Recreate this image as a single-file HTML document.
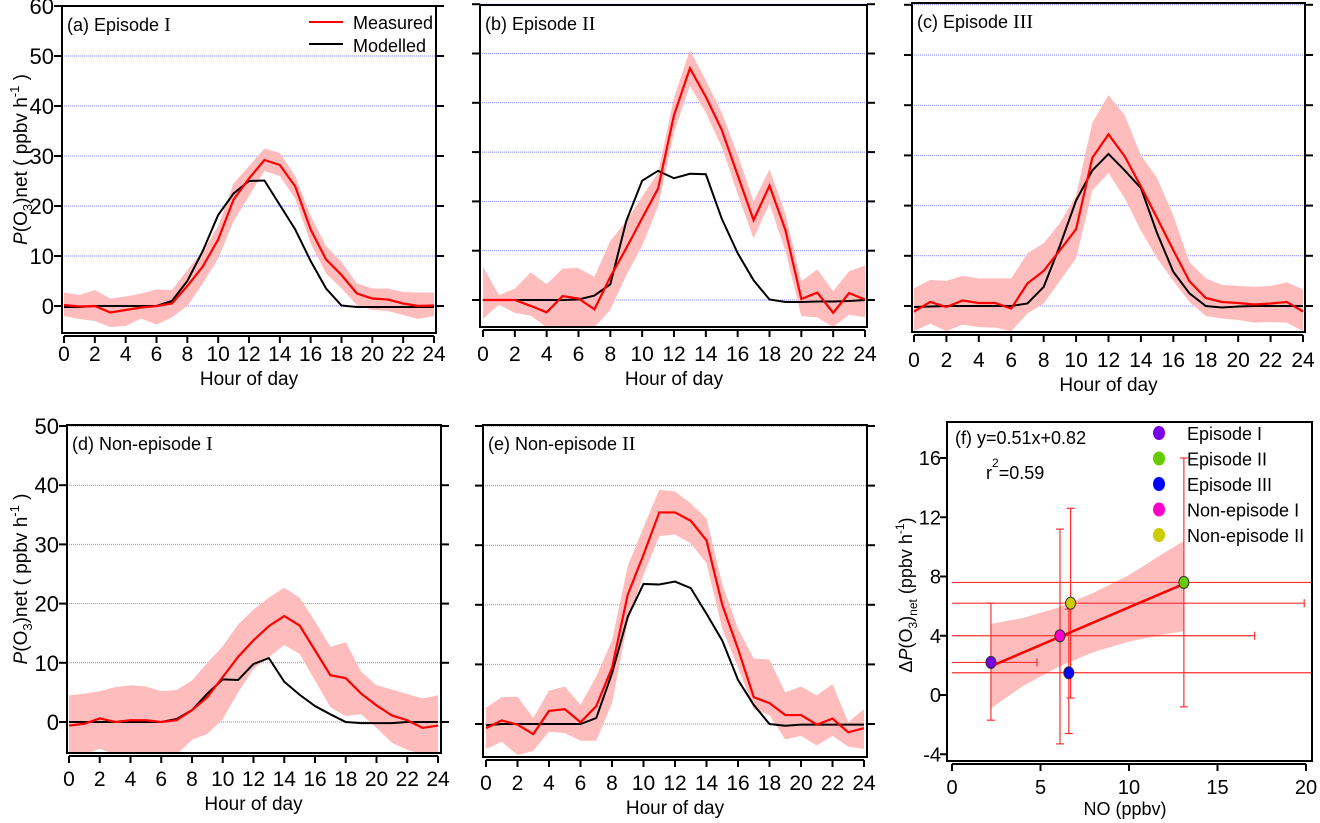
<!DOCTYPE html>
<html><head><meta charset="utf-8"><style>
html,body{margin:0;padding:0;background:#fff;}
svg{display:block;font-family:"Liberation Sans","Noto Sans CJK SC",sans-serif;}
</style></head><body>
<svg id="fig" width="1320" height="823" viewBox="0 0 1320 823" xmlns="http://www.w3.org/2000/svg"></svg>
<script>
var hours=[0,1,2,3,4,5,6,7,8,9,10,11,12,13,14,15,16,17,18,19,20,21,22,23,24];
var xTickLabels=[0,2,4,6,8,10,12,14,16,18,20,22,24];
var aMeas=[0.2,-0.1,0,-1.3,-0.8,-0.3,0,0.5,4,7.9,13.3,21.3,25.5,29.2,28.2,23.9,15.3,9.3,6.2,2.5,1.5,1.3,0.5,0,0.1];
var aUp=[2.7,2.2,3.2,1.5,1.9,2.5,3.3,3.2,7.2,10.9,16,24.5,28,31.5,30.6,26,18,12,8.8,4.5,3.5,3.5,2.8,2.7,2.7];
var aLo=[-2,-2.6,-3,-4.2,-4,-2.5,-3.7,-2.3,0,4.5,9.5,17,22,27,26,21.5,12.5,6.5,3.5,0.2,-0.8,-1,-1.8,-2.6,-2];
var aMod=[-0.2,-0.2,0,0,0,0,0,1,5,11,18.2,22.5,25,25.1,20.2,15.3,9,3.5,0.1,-0.2,-0.2,-0.2,-0.2,-0.2,-0.2];
var bMeas=[0,0,0,-1.2,-2.5,0.8,0.3,-1.9,4.7,10.5,16.6,22.6,37.5,47,41.2,34.5,25.3,16.2,23.2,14.2,0.2,1.5,-2.6,1.4,0.1];
var bUp=[6.8,1,2.3,5.6,3.2,6.4,6.5,4.7,12,16,21,25.8,41,50.7,44.5,38,29.5,20,26.5,17.5,3.8,6.2,1.8,5.8,7];
var bLo=[-3.8,-1,-2.6,-3.2,-5.5,-5.5,-5.5,-5.5,-2,5,11,19,34,43.5,38,31,21.5,12.5,19.5,10,-3.3,-3.5,-5.5,-3,-3.5];
var bMod=[0,0,0,0,0,0,0.1,0.9,3.2,16,24.2,26.2,24.7,25.6,25.5,16.5,9.5,4,0.1,-0.4,-0.4,-0.3,-0.3,-0.2,0];
var cMeas=[-1.1,0.8,-0.2,1.1,0.6,0.6,-0.5,4.5,7,11.1,15.3,29.5,34.2,29.8,23.8,17.5,11.1,4.9,1.6,0.8,0.6,0.3,0.5,0.8,-1.1];
var cUp=[3.5,5.2,5,6,5.5,5.5,5.5,10.5,12.5,16.5,22,36.5,42,38,30,25.5,18,8.7,5.5,4.2,4,3.8,4,4.7,3.3];
var cLo=[-5,-3.5,-5,-3.7,-4.2,-4.3,-5,-1.5,0.5,5,9.5,23,26.5,21.5,15,9.5,5,0.8,-2,-2.5,-2.8,-3.3,-3.2,-3.3,-5];
var cMod=[-0.2,-0.1,0,0,0,0,0,0.5,3.8,12,21,27,30.3,27,23.5,14.5,6.8,2.5,0,-0.3,-0.1,0,0,0,0];
var dMeas=[-0.6,-0.3,0.6,0,0.3,0.3,0,0.3,2,4.2,7.6,11,13.8,16.2,17.9,16.3,12.1,7.9,7.4,4.8,2.8,1.1,0.3,-1,-0.6];
var dUp=[4.5,4.8,5.2,5.9,6.2,6,5.2,5.4,7,10,12.8,16.5,19,21,22.7,21,17,12.7,13.5,8.5,6.2,5.5,4.7,4,4.5];
var dLo=[-5.5,-5.5,-4.5,-5.5,-5.5,-5.5,-5.5,-5.5,-3,-2,0.5,5,9,11,13,11.5,7,2.5,1,1.3,-1,-3.5,-4.7,-5.5,-5.5];
var dMod=[0,0,0,0,0,0,0,0.5,2,4.8,7.2,7.1,9.8,10.8,6.8,4.6,2.7,1.3,0,-0.2,-0.2,-0.2,0,0,0];
var eMeas=[-0.7,0.6,-0.1,-1.7,2.2,2.5,0.3,3,9.4,21.7,28.4,35.5,35.5,34.1,30.8,20,12.6,4.5,3.5,1.5,1.5,-0.1,0.9,-1.4,-0.7];
var eUp=[2.7,4.5,4.6,1,5.6,6.3,3.2,8,14,26.5,33,39.3,39,37,34.5,23.5,16,11,10.8,5.3,6.3,4.8,6.7,0.3,2.5];
var eLo=[-4.2,-3,-5.2,-4.5,-1.3,-1.5,-2.8,-2.8,3.5,17,25,31.5,31.8,30.3,27,16,9.5,2.5,1.5,-2.6,-2,-3.6,-2,-3.8,-4.2];
var eMod=[-0.2,0,0,0,0,0,0,1,8.5,18,23.5,23.4,23.9,22.8,18.5,14,7.4,3.2,0,-0.3,-0.1,-0.1,-0.1,-0.1,-0.1];
var fNames=["Episode I","Episode II","Episode III","Non-episode I","Non-episode II"];
var fColors=["#7a00e6","#66cc00","#0000ff","#ff00cc","#cccc00"];
var fX=[2.2,13.1,6.6,6.1,6.7];
var fY=[2.2,7.6,1.5,4.0,6.2];
var fYLo=[-1.7,-0.8,-2.6,-3.3,-0.2];
var fYHi=[6.2,16,5.8,11.2,12.6];
var fXLo=[0,0,0,0,0];
var fXHi=[4.8,21,21,17.1,19.9];
var fSlope=0.51, fIntercept=0.82;
var fitX=[2.2,13.1];
var bandX=[2.2,4,6,8,10,12,13.1];
var bandLo=[-0.9,0.6,1.9,2.9,3.6,4.1,4.3];
var bandHi=[4.8,5.2,5.9,6.9,8.1,9.6,10.4];
var fXTicks=[0,5,10,15,20];
var fYTicks=[-4,0,4,8,12,16];

var NS="http://www.w3.org/2000/svg";
var svg=document.getElementById('fig');
function mk(tag,attrs,parent){var e=document.createElementNS(NS,tag);for(var k in attrs)e.setAttribute(k,attrs[k]);(parent||svg).appendChild(e);return e;}

var panels=[
 {id:'a',L:62,R:436,T:6,B:333,x0:64,x24:434,y0:306,ppu:5.0,gmax:60,labels:true,title:'(a) Episode',rn:'I',meas:aMeas,up:aUp,lo:aLo,mod:aMod,xlY:361,xtY:385},
 {id:'b',L:480,R:867,T:5,B:327,x0:483,x24:865,y0:300,ppu:4.93,gmax:60,labels:false,title:'(b) Episode',rn:'II',meas:bMeas,up:bUp,lo:bLo,mod:bMod,xlY:361,xtY:385},
 {id:'c',L:912,R:1305,T:3,B:332,x0:914,x24:1303,y0:306,ppu:5.02,gmax:60,labels:false,title:'(c) Episode',rn:'III',meas:cMeas,up:cUp,lo:cLo,mod:cMod,xlY:367,xtY:391},
 {id:'d',L:67,R:441,T:425,B:753,x0:69,x24:438,y0:722,ppu:5.92,gmax:50,labels:true,title:'(d) Non-episode',rn:'I',meas:dMeas,up:dUp,lo:dLo,mod:dMod,xlY:786,xtY:810},
 {id:'e',L:483,R:867,T:425,B:757,x0:486,x24:864,y0:724,ppu:5.96,gmax:50,labels:false,title:'(e) Non-episode',rn:'II',meas:eMeas,up:eUp,lo:eLo,mod:eMod,xlY:790,xtY:814}
];

panels.forEach(function(p){
  var g=mk('g',{});
  
  
  function X(h){return p.x0+(p.x24-p.x0)*h/24;}
  function Y(v){return p.y0-v*p.ppu;}
  var cp=mk('clipPath',{id:'clip'+p.id},g);
  mk('rect',{x:p.L,y:p.T,width:p.R-p.L,height:p.B-p.T},cp);
  for(var v=0;v<=p.gmax;v+=10){
    var gl=mk('line',{x1:p.L,x2:p.R,y1:Y(v),y2:Y(v),stroke:'#8080ff','stroke-width':1,'stroke-dasharray':'1,1'},g);
    
    
    var tl=mk('line',{x1:p.L-8,x2:p.L,y1:Y(v),y2:Y(v),stroke:'#000','stroke-width':2},g);
    
    
    var tr=mk('line',{x1:p.R,x2:p.R+8,y1:Y(v),y2:Y(v),stroke:'#000','stroke-width':2},g);
    
    
    if(p.labels){
      var t=mk('text',{x:p.L-8,y:Y(v)+8,'text-anchor':'end','font-size':22,fill:'#000'},g);
      t.textContent=v;
      
      
    }
  }
  var pts=[];
  hours.forEach(function(h,i){pts.push(X(h)+','+Y(p.up[i]));});
  for(var i=hours.length-1;i>=0;i--)pts.push(X(hours[i])+','+Y(p.lo[i]));
  var band=mk('polygon',{points:pts.join(' '),fill:'#ffbcbc','clip-path':'url(#clip'+p.id+')'},g);
  
  
  var mp=hours.map(function(h,i){return X(h)+','+Y(p.mod[i]);}).join(' ');
  var ml=mk('polyline',{points:mp,fill:'none',stroke:'#000','stroke-width':2},g);
  
  
  var rp=hours.map(function(h,i){return X(h)+','+Y(p.meas[i]);}).join(' ');
  var rl=mk('polyline',{points:rp,fill:'none',stroke:'#ff0000','stroke-width':2.2},g);
  
  
  var box=mk('rect',{x:p.L,y:p.T,width:p.R-p.L,height:p.B-p.T,fill:'none',stroke:'#000','stroke-width':2},g);
  
  
  var xa=mk('line',{x1:X(0),x2:X(24),y1:p.B+3,y2:p.B+3,stroke:'#000','stroke-width':2},g);
  
  
  xTickLabels.forEach(function(h){
    var tk=mk('line',{x1:X(h),x2:X(h),y1:p.B+3,y2:p.B+10,stroke:'#000','stroke-width':2},g);
    
    
    var tt=mk('text',{x:X(h),y:p.xlY,'text-anchor':'middle','font-size':21,fill:'#000'},g);
    tt.textContent=h;
    
    
  });
  var xt=mk('text',{x:(X(0)+X(24))/2,y:p.xtY,'text-anchor':'middle','font-size':19,fill:'#000'},g);
  xt.textContent='Hour of day';
  
  
  var ti=mk('text',{x:p.L+5,y:p.T+25,'font-size':18,fill:'#000'},g);
  ti.innerHTML=p.title+' <tspan font-family="Liberation Serif" font-size="20">'+p.rn+'</tspan>';
  
  
  if(p.labels){
    var cy=(p.T+p.B)/2-10;
    var yl=mk('text',{x:0,y:0,'text-anchor':'middle','font-size':19,fill:'#000',transform:'translate(27,'+cy+') rotate(-90)'},g);
    yl.innerHTML='<tspan font-style="italic">P</tspan>(O<tspan font-size="13" dy="5">3</tspan><tspan dy="-5">)net ( ppbv h</tspan><tspan font-size="13" dy="-8">-1</tspan><tspan dy="8"> )</tspan>';
    
    
  }
});

var lg=mk('g',{});


var l1=mk('line',{x1:309,x2:343,y1:22,y2:22,stroke:'#ff0000','stroke-width':2},lg);


var lt1=mk('text',{x:353,y:29,'font-size':18,fill:'#000'},lg);
lt1.textContent='Measured';


var l2=mk('line',{x1:309,x2:343,y1:44,y2:44,stroke:'#000','stroke-width':2},lg);


var lt2=mk('text',{x:353,y:52,'font-size':18,fill:'#000'},lg);
lt2.textContent='Modelled';



(function(){
  var L=947,R=1312,T=422,B=761;
  function FX(v){return 952+(1306-952)*v/20;}
  function FY(v){return 695-v*(695-458)/16;}
  var g=mk('g',{});
  
  
  var cp=mk('clipPath',{id:'clipf'},g);
  mk('rect',{x:L,y:T,width:R-L,height:B-T},cp);
  var pts=[];
  bandX.forEach(function(x,i){pts.push(FX(x)+','+FY(bandHi[i]));});
  for(var i=bandX.length-1;i>=0;i--)pts.push(FX(bandX[i])+','+FY(bandLo[i]));
  var bd=mk('polygon',{points:pts.join(' '),fill:'#ffbcbc'},g);
  
  
  fX.forEach(function(x,i){
    var eg=mk('g',{'clip-path':'url(#clipf)',stroke:'#ff3030','stroke-width':1.2},g);
    
    
    mk('line',{x1:FX(x),x2:FX(x),y1:FY(fYLo[i]),y2:FY(fYHi[i])},eg);
    mk('line',{x1:FX(x)-4,x2:FX(x)+4,y1:FY(fYLo[i]),y2:FY(fYLo[i])},eg);
    mk('line',{x1:FX(x)-4,x2:FX(x)+4,y1:FY(fYHi[i]),y2:FY(fYHi[i])},eg);
    mk('line',{x1:Math.max(FX(fXLo[i]),L),x2:FX(fXHi[i]),y1:FY(fY[i]),y2:FY(fY[i])},eg);
    mk('line',{x1:FX(fXHi[i]),x2:FX(fXHi[i]),y1:FY(fY[i])-4,y2:FY(fY[i])+4},eg);
  });
  var fl=mk('line',{x1:FX(fitX[0]),x2:FX(fitX[1]),y1:FY(fSlope*fitX[0]+fIntercept),y2:FY(fSlope*fitX[1]+fIntercept),stroke:'#ff0000','stroke-width':2.5},g);
  
  
  fX.forEach(function(x,i){
    var c=mk('ellipse',{cx:FX(x),cy:FY(fY[i]),rx:5,ry:6,fill:fColors[i],stroke:'#333','stroke-width':1},g);
    
    
  });
  var box=mk('rect',{x:L,y:T,width:R-L,height:B-T,fill:'none',stroke:'#000','stroke-width':2},g);
  
  
  fYTicks.forEach(function(v){
    var tk=mk('line',{x1:L-7,x2:L,y1:FY(v),y2:FY(v),stroke:'#000','stroke-width':2},g);
    
    
    var t=mk('text',{x:L-6,y:FY(v)+7,'text-anchor':'end','font-size':20,fill:'#000'},g);
    t.textContent=v;
    
    
  });
  var xa=mk('line',{x1:FX(0),x2:FX(20),y1:B+3,y2:B+3,stroke:'#000','stroke-width':2},g);
  
  
  fXTicks.forEach(function(v){
    var tk=mk('line',{x1:FX(v),x2:FX(v),y1:B+3,y2:B+10,stroke:'#000','stroke-width':2},g);
    
    
    var t=mk('text',{x:FX(v),y:794,'text-anchor':'middle','font-size':20,fill:'#000'},g);
    t.textContent=v;
    
    
  });
  var xt=mk('text',{x:1125,y:815,'text-anchor':'middle','font-size':18,fill:'#000'},g);
  xt.textContent='NO (ppbv)';
  
  
  var yl=mk('text',{x:0,y:0,'text-anchor':'middle','font-size':18,fill:'#000',transform:'translate(912,595) rotate(-90)'},g);
  yl.innerHTML='Δ<tspan font-style="italic">P</tspan>(O<tspan font-size="12" dy="5">3</tspan><tspan dy="-5">)</tspan><tspan font-size="12" dy="5">net</tspan><tspan dy="-5">  (ppbv h</tspan><tspan font-size="12" dy="-8">-1</tspan><tspan dy="8">)</tspan>';
  
  
  var eq=mk('text',{x:955,y:444,'font-size':18,fill:'#000'},g);
  eq.textContent='(f)  y=0.51x+0.82';
  
  
  var r2=mk('text',{x:986,y:479,'font-size':18,fill:'#000'},g);
  r2.innerHTML='r<tspan font-size="12" dy="-12">2</tspan><tspan dy="12">=0.59</tspan>';
  
  
  fNames.forEach(function(n,i){
    var y=433+i*25.5;
    var m=mk('ellipse',{cx:1159,cy:y,rx:6,ry:7,fill:fColors[i]},g);
    
    
    var t=mk('text',{x:1187,y:y+7,'font-size':18,fill:'#000'},g);
    t.textContent=n;
    
    
  });
})();
</script>
</body></html>
